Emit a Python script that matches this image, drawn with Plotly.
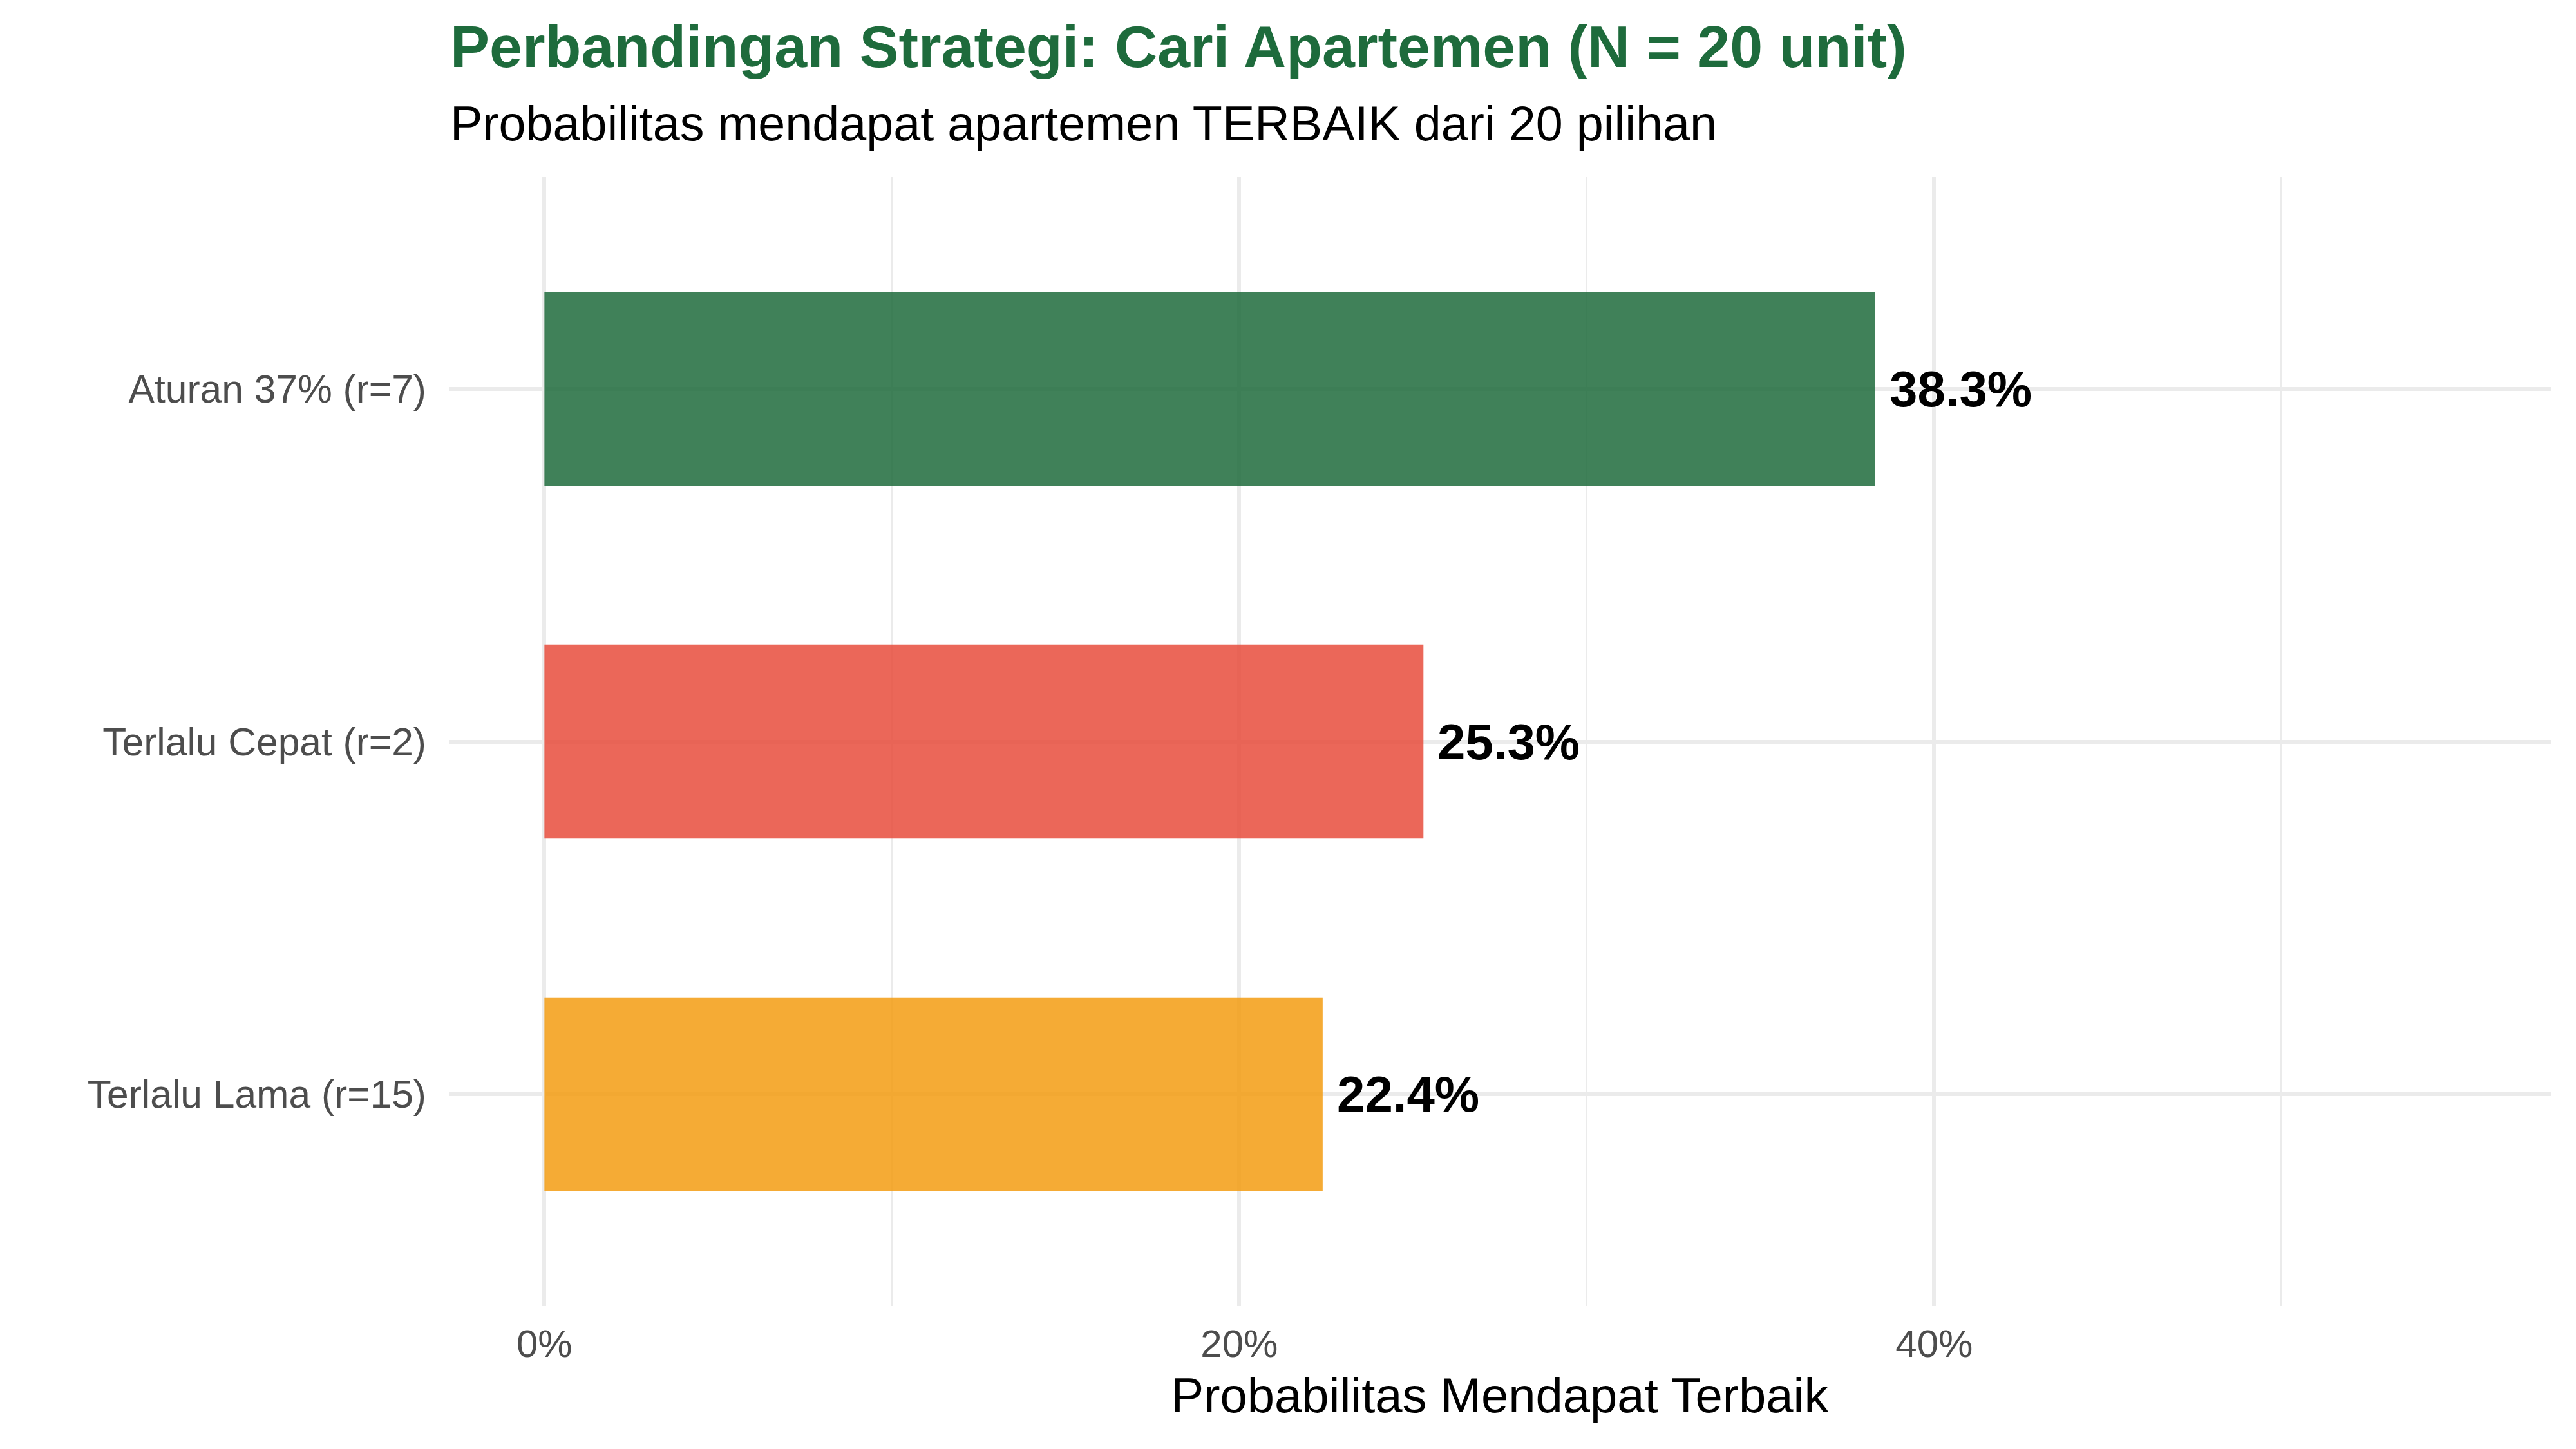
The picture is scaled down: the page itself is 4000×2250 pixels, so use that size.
import plotly.graph_objects as go

# ---- data ----
categories = ["Aturan 37% (r=7)", "Terlalu Cepat (r=2)", "Terlalu Lama (r=15)"]
probabilities = [38.3, 25.3, 22.4]
bar_labels = ["38.3%", "25.3%", "22.4%"]
bar_colors = ["rgba(30,107,60,0.85)", "rgba(231,76,60,0.85)", "rgba(243,156,18,0.85)"]
x_tick_vals = [0, 20, 40]
x_tick_text = ["0%", "20%", "40%"]
x_minor_vals = [10, 30, 50]

FONT = "Liberation Sans, Arial, Helvetica, sans-serif"
GRID = "#EBEBEB"
SHIFT = 8  # default page body margin

fig = go.Figure()
fig.add_trace(go.Bar(
    y=categories,
    x=probabilities,
    orientation="h",
    width=0.55,
    marker=dict(color=bar_colors, line=dict(width=0)),
    hoverinfo="skip",
))

for cat, val, lab in zip(categories, probabilities, bar_labels):
    fig.add_annotation(
        x=val, y=cat, xref="x", yref="y",
        text=f"<b>{lab}</b>", showarrow=False,
        xanchor="left", yanchor="middle", xshift=20,
        font=dict(family=FONT, size=78, color="black"),
    )

fig.update_layout(
    width=4000, height=2250,
    margin=dict(l=697 - SHIFT, r=39 + SHIFT, t=275 - SHIFT, b=222 + SHIFT, pad=0),
    paper_bgcolor="white", plot_bgcolor="white",
    showlegend=False,
    font=dict(family=FONT),
)

fig.update_xaxes(
    range=[-2.75, 57.75],
    tickvals=x_tick_vals, ticktext=x_tick_text,
    tickfont=dict(family=FONT, size=60, color="#4D4D4D"),
    showgrid=True, gridcolor=GRID, gridwidth=5.5,
    zeroline=False, showline=False, ticks="",
    ticklabelstandoff=18,
    minor=dict(tickvals=x_minor_vals, showgrid=True, gridcolor=GRID, gridwidth=3),
    title=dict(text="Probabilitas Mendapat Terbaik",
               font=dict(family=FONT, size=76, color="black"), standoff=20),
)
fig.update_yaxes(
    categoryorder="array", categoryarray=categories,
    range=[2.6, -0.6],
    tickfont=dict(family=FONT, size=60.5, color="#4D4D4D"),
    showgrid=True, gridcolor=GRID, gridwidth=5.5,
    zeroline=False, showline=False, ticks="",
    ticklabelstandoff=34,
)

fig.add_annotation(
    text="<b>Perbandingan Strategi: Cari Apartemen (N = 20 unit)</b>",
    xref="paper", yref="paper", x=0, y=1 + (275 - 72) / 1753,
    xanchor="left", yanchor="middle", showarrow=False,
    font=dict(family=FONT, size=91.5, color="#1E6B3C"),
)
fig.add_annotation(
    text="Probabilitas mendapat apartemen TERBAIK dari 20 pilihan",
    xref="paper", yref="paper", x=0, y=1 + (275 - 192) / 1753,
    xanchor="left", yanchor="middle", showarrow=False,
    font=dict(family=FONT, size=75.5, color="black"),
)

fig.write_html("out.html")
